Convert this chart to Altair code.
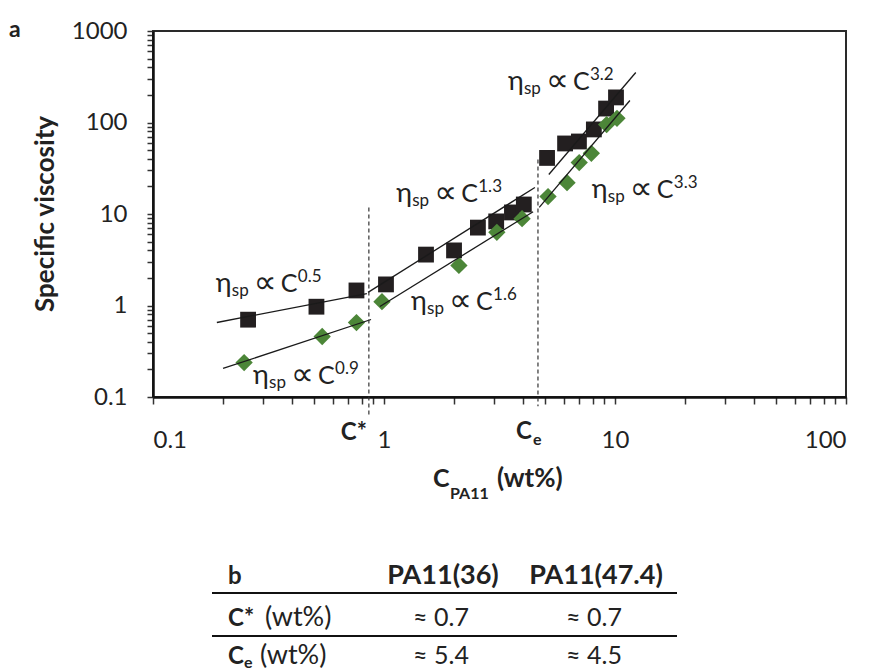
import altair as alt
import pandas as pd

# ---- measured data -------------------------------------------------------
# black squares (higher-viscosity grade)
sq_c = [0.258, 0.51, 0.76, 1.02, 1.52, 2.01, 2.55, 3.06, 3.58, 4.03,
        5.08, 6.08, 6.98, 8.1, 9.15, 10.1]
sq_eta = [0.70, 0.97, 1.46, 1.70, 3.6, 4.0, 7.1, 8.3, 10.4, 12.7,
          41, 59, 62, 84, 142, 188]

# green diamonds
dm_c = [0.248, 0.54, 0.76, 0.98, 2.11, 3.08, 3.96,
        5.13, 6.2, 7.0, 7.9, 9.2, 10.2]
dm_eta = [0.238, 0.458, 0.65, 1.1, 2.74, 6.3, 8.9,
          15.5, 22, 36.5, 46, 95, 111]

# power-law fit segments
fit_c0 = [0.189, 0.201, 0.853, 0.96, 5.17, 4.70]
fit_eta0 = [0.652, 0.205, 1.39, 0.975, 27, 11.8]
fit_c1 = [0.843, 0.879, 4.5, 4.42, 12.3, 11.6]
fit_eta1 = [1.35, 0.703, 19.5, 10.6, 352, 174]

# scaling-law labels: anchor (left, baseline) and exponent
ann_c = [0.187, 0.271, 1.13, 1.31, 3.44, 7.94]
ann_eta = [1.39, 0.137, 13.4, 0.895, 229, 15.1]
ann_exp = ["0.5", "0.9", "1.3", "1.6", "3.2", "3.3"]

# critical concentrations (dashed markers)
crit_c = [0.86, 4.64]
crit_top = [11.8, 39.4]
crit_bottom = [0.06, 0.079]

# axis ticks
x_ticks = [m * 10.0 ** e for e in (-1, 0, 1) for m in range(1, 10)] + [100]
y_ticks = [m * 10.0 ** e for e in (-1, 0, 1, 2) for m in range(1, 10)] + [1000]

# table (panel b)
table_cols = ["PA11(36)", "PA11(47.4)"]
table_cstar = ["≈ 0.7", "≈ 0.7"]
table_ce = ["≈ 5.4", "≈ 4.5"]

FONT = "Lato, 'DejaVu Sans', sans-serif"
SYM_FONT = "'DejaVu Sans', sans-serif"
INK = "#222222"
W, H = 693, 366

sq_df = pd.DataFrame({"c": sq_c, "eta": sq_eta})
dm_df = pd.DataFrame({"c": dm_c, "eta": dm_eta})
fit_df = pd.DataFrame({"c0": fit_c0, "eta0": fit_eta0, "c1": fit_c1, "eta1": fit_eta1})
ann_df = pd.DataFrame({"c": ann_c, "eta": ann_eta, "exp": ann_exp})
crit_df = pd.DataFrame({"c": crit_c, "top": crit_top, "bottom": crit_bottom})

label_expr = ("abs(log(datum.value)/LN10 - round(log(datum.value)/LN10)) < 1e-6"
              " ? format(datum.value, '~g') : ''")

x_scale = alt.Scale(type="log", domain=[0.1, 100], nice=False)
y_scale = alt.Scale(type="log", domain=[0.1, 1000], nice=False)

x_axis = alt.Axis(values=x_ticks, labelExpr=label_expr, title=None, grid=False,
                  tickSize=7, labelPadding=24, labelFontSize=24, labelFont=FONT,
                  labelColor=INK, labelOverlap=False, domainWidth=2.5,
                  domainColor="#111111", tickColor="#333333", tickWidth=1.5)
y_axis = alt.Axis(values=y_ticks, labelExpr=label_expr, title=None, grid=False,
                  tickSize=6, labelPadding=20, labelFontSize=24, labelFont=FONT,
                  labelColor=INK, labelOverlap=False, domainWidth=2.5,
                  domainColor="#111111", tickColor="#333333", tickWidth=1.5)

base_x = alt.X("c:Q", scale=x_scale, axis=x_axis)
base_y = alt.Y("eta:Q", scale=y_scale, axis=y_axis)

squares = alt.Chart(sq_df).mark_point(
    shape="square", filled=True, size=250, color="#231f20", opacity=1
).encode(x=base_x, y=base_y)

diamonds = alt.Chart(dm_df).mark_point(
    shape="diamond", filled=True, size=300, color="#4c8638", opacity=1
).encode(x=alt.X("c:Q", scale=x_scale), y=alt.Y("eta:Q", scale=y_scale))

fits = alt.Chart(fit_df).mark_rule(color="#1a1a1a", strokeWidth=1.3).encode(
    x=alt.X("c0:Q", scale=x_scale), y=alt.Y("eta0:Q", scale=y_scale),
    x2="c1:Q", y2="eta1:Q")

dashes = alt.Chart(crit_df).mark_rule(
    color="#333333", strokeWidth=1.2, strokeDash=[4, 3]
).encode(x=alt.X("c:Q", scale=x_scale), y=alt.Y("top:Q", scale=y_scale), y2="bottom:Q")


def ann_piece(text, dx, dy, size, field=None, font=FONT):
    enc = dict(x=alt.X("c:Q", scale=x_scale), y=alt.Y("eta:Q", scale=y_scale))
    if field:
        enc["text"] = alt.Text(f"{field}:N")
    else:
        enc["text"] = alt.value(text)
    return alt.Chart(ann_df).mark_text(
        align="left", baseline="alphabetic", dx=dx, dy=dy, fontSize=size,
        font=font, color=INK).encode(**enc)


annotations = [
    ann_piece("η", 0, 0, 27),
    ann_piece("sp", 16, 4, 17),
    ann_piece("∝", 38, 1, 32, font=SYM_FONT),
    ann_piece("C", 65, 0, 25),
    ann_piece(None, 82, -10, 17, field="exp"),
]

# C* and Ce markers below the axis
cstar = alt.Chart(crit_df.iloc[[0]]).mark_text(
    align="right", baseline="alphabetic", dx=-2, fontSize=24, fontWeight="bold",
    font=FONT, color=INK).encode(x=alt.X("c:Q", scale=x_scale), y=alt.value(409),
                                 text=alt.value("C*"))
ce_c = alt.Chart(crit_df.iloc[[1]]).mark_text(
    align="right", baseline="alphabetic", dx=-6, fontSize=24, fontWeight="bold",
    font=FONT, color=INK).encode(x=alt.X("c:Q", scale=x_scale), y=alt.value(408),
                                 text=alt.value("C"))
ce_e = alt.Chart(crit_df.iloc[[1]]).mark_text(
    align="left", baseline="alphabetic", dx=-5, fontSize=16, fontWeight="bold",
    font=FONT, color=INK).encode(x=alt.X("c:Q", scale=x_scale), y=alt.value(414),
                                 text=alt.value("e"))


def free_text(text, x, y, size, bold=False, align="left", angle=0, baseline="alphabetic"):
    kw = dict(align=align, baseline=baseline, fontSize=size, font=FONT, color=INK,
              fontWeight="bold" if bold else "normal")
    if angle:
        kw["angle"] = angle
    return alt.Chart(sq_df.iloc[[0]]).mark_text(**kw).encode(
        x=alt.value(x), y=alt.value(y), text=alt.value(text))


def hline(x0, x1, y, width=1.8):
    return alt.Chart(sq_df.iloc[[0]]).mark_rule(color="#111111", strokeWidth=width).encode(
        x=alt.value(x0), x2=alt.value(x1), y=alt.value(y))


# panel letter, axis titles
decor = [
    free_text("a", -144, 6, 23, bold=True),
    free_text("Specific viscosity", -107, 183, 26, bold=True, align="center",
              angle=270, baseline="middle"),
    free_text("C", 280, 456, 25, bold=True),
    free_text("PA11", 297, 468, 16, bold=True),
    free_text("(wt%)", 344, 456, 26, bold=True),
]

# table b
col_x = [290, 443]
table = [
    free_text("b", 75, 553, 24, bold=True),
    hline(59, 524, 562),
    free_text("C*", 75, 595, 24, bold=True),
    free_text("(wt%)", 112, 595, 27),
    hline(59, 524, 605),
    free_text("C", 75, 633, 24, bold=True),
    free_text("e", 91, 637, 16, bold=True),
    free_text("(wt%)", 107, 633, 27),
]
for cx, head, v1, v2 in zip(col_x, table_cols, table_cstar, table_ce):
    table += [
        free_text(head, cx, 553, 27, bold=True, align="center"),
        free_text(v1, cx - 2, 595, 25, align="center"),
        free_text(v2, cx - 2, 633, 25, align="center"),
    ]

chart = alt.layer(
    squares, diamonds, fits, dashes, *annotations, cstar, ce_c, ce_e, *decor, *table
).properties(
    width=W, height=H,
    background="white",
    autosize=alt.AutoSizeParams(type="none"),
    padding={"left": 153, "top": 31, "right": 26, "bottom": 274},
).configure_view(
    stroke="#2a2a2a", strokeWidth=2
)

chart.save("out.html", embed_options={"renderer": "svg", "actions": False})
